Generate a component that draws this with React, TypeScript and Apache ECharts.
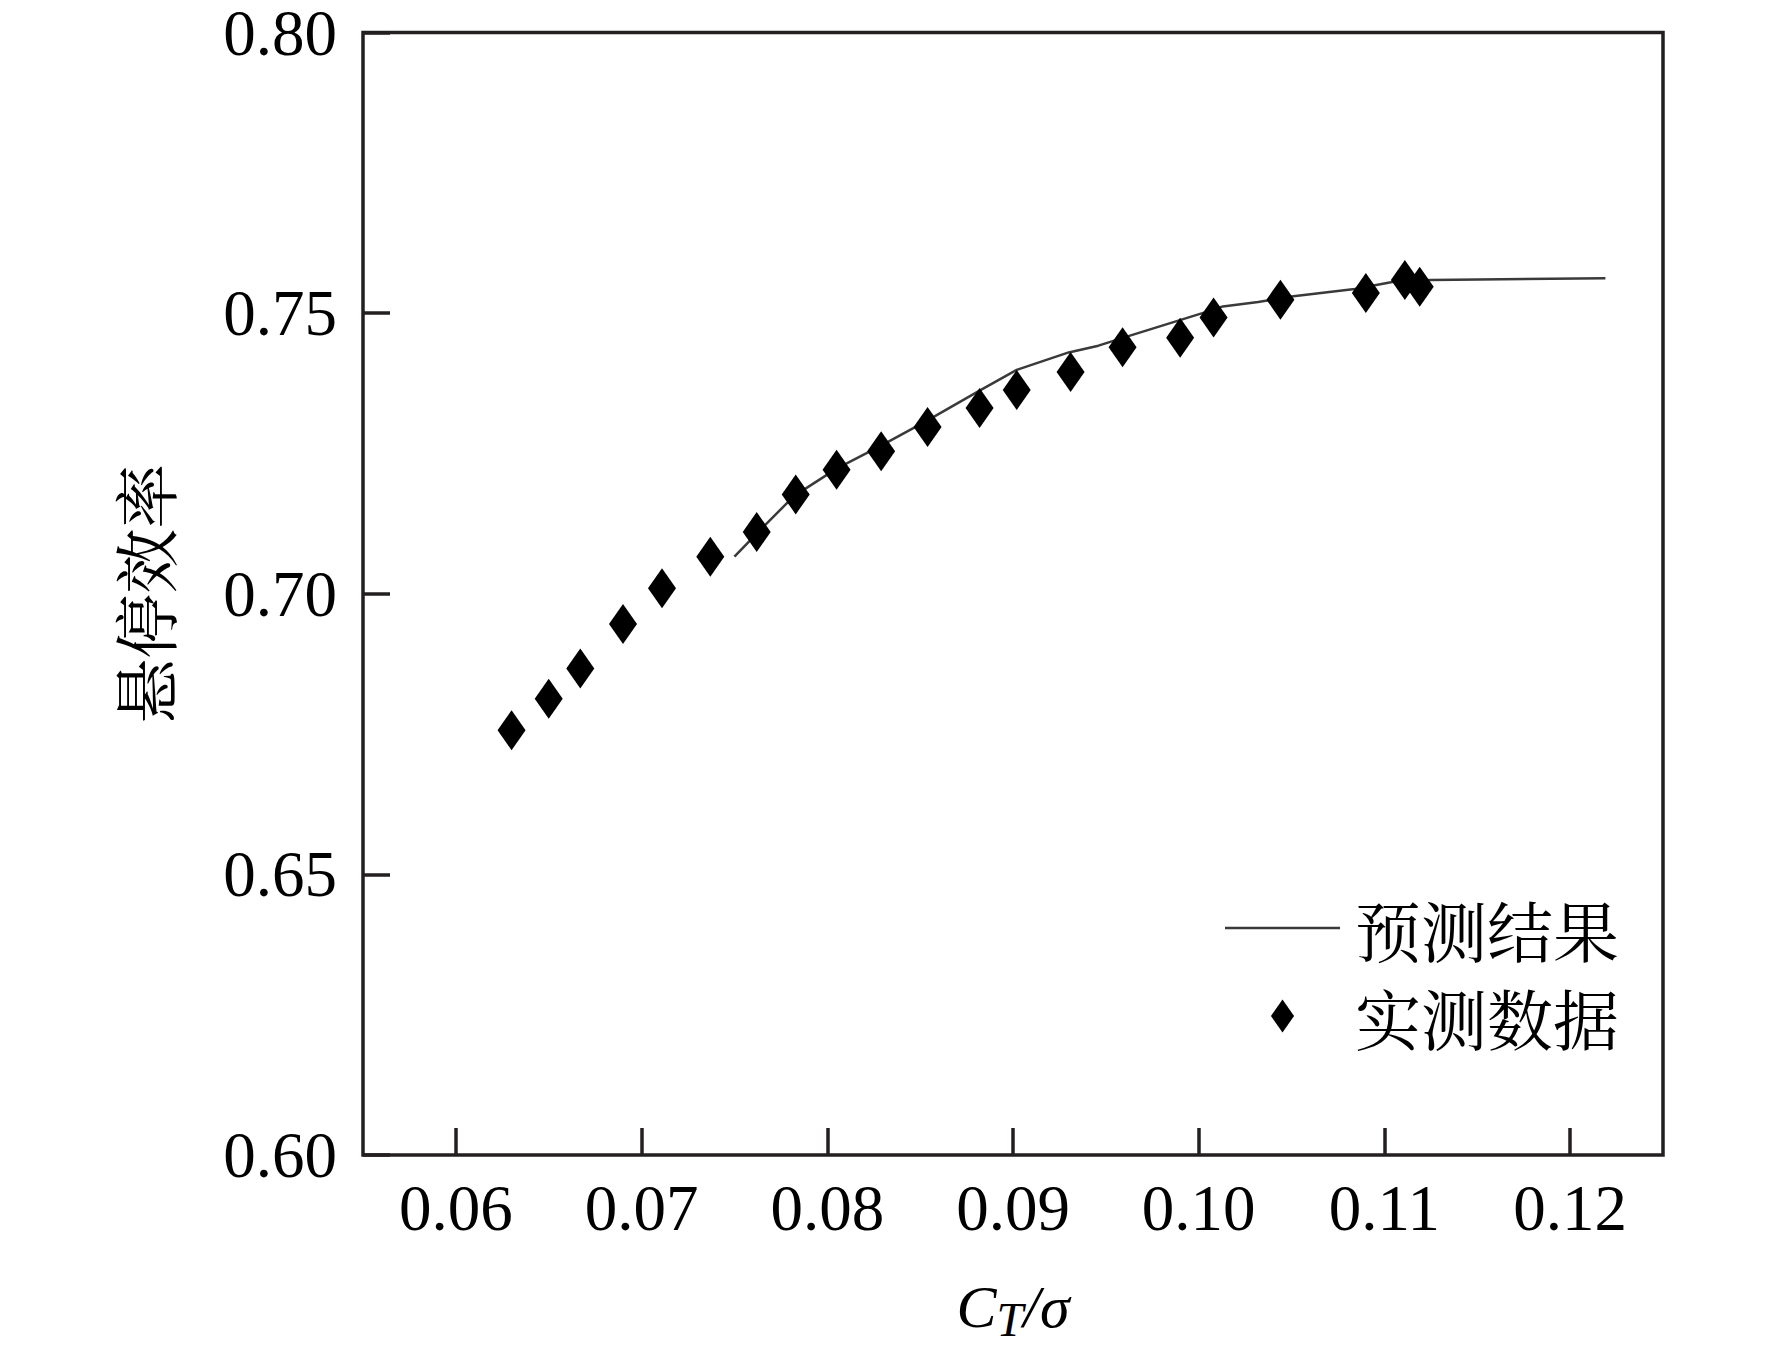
import React, { useEffect, useRef } from "react";
import * as echarts from "echarts";

// x-axis ticks (C_T/σ)
const xTickValues = [0.06, 0.07, 0.08, 0.09, 0.1, 0.11, 0.12];

// Measured data (实测数据)
const measX = [0.063, 0.065, 0.0667, 0.069, 0.0711, 0.0737, 0.0762, 0.0783, 0.0805, 0.0829, 0.0854, 0.0882, 0.0902, 0.0931, 0.0959, 0.099, 0.1008, 0.1044, 0.109, 0.1111, 0.1119];
const measY = [0.6757, 0.6813, 0.6867, 0.6946, 0.701, 0.7066, 0.711, 0.7177, 0.7221, 0.7254, 0.7297, 0.7331, 0.7363, 0.7395, 0.7439, 0.7456, 0.7492, 0.7524, 0.7536, 0.7559, 0.7547];

// Predicted result (预测结果)
const predX = [0.075, 0.0762, 0.0782, 0.0805, 0.0829, 0.0854, 0.0882, 0.0902, 0.093, 0.0946, 0.0963, 0.1002, 0.1013, 0.1032, 0.1051, 0.1084, 0.1105, 0.1125, 0.1219];
const predY = [0.7066, 0.7107, 0.7174, 0.7223, 0.7264, 0.7309, 0.7362, 0.7399, 0.743, 0.7442, 0.746, 0.75, 0.7512, 0.752, 0.753, 0.7543, 0.7556, 0.7559, 0.7562];

const NUM_FONT = "'Liberation Serif', 'Times New Roman', serif";
const CJK_FONT = "'Noto Serif CJK SC', 'Noto Sans CJK SC', sans-serif";
const FRAME = "#231f20";
const LINE_COLOR = "#3a3a3a";

export default function App() {
  const ref = useRef<HTMLDivElement>(null);

  useEffect(() => {
    if (!ref.current) return;
    const chart = echarts.init(ref.current, undefined, { renderer: "svg" });
    const option = {
      animation: false,
      backgroundColor: "#ffffff",
      grid: {
        left: 363,
        top: 32,
        width: 1300,
        height: 1123,
        show: true,
        borderColor: FRAME,
        borderWidth: 3.5,
        backgroundColor: "transparent",
      },
      legend: {
        orient: "vertical",
        left: 1220,
        top: 890,
        itemWidth: 115,
        itemHeight: 33,
        itemGap: 22,
        selectedMode: false,
        textStyle: {
          fontFamily: CJK_FONT,
          fontSize: 66,
          lineHeight: 66,
          color: "#000",
          padding: [0, 0, 0, 10],
        },
        data: [
          {
            name: "预测结果",
            icon: "path://M0,0H115V2.6H0Z",
            itemStyle: { color: LINE_COLOR, borderWidth: 0 },
          },
          { name: "实测数据", icon: "path://M0,-20L14,0L0,20L-14,0Z", itemStyle: { color: "#000", opacity: 1 } },
        ],
      },
      xAxis: {
        type: "value",
        min: 0.055,
        max: 0.125,
        name: "{c|C}{t|T}{c|/σ}",
        nameLocation: "middle",
        nameGap: 116,
        nameTextStyle: {
          rich: {
            c: { fontFamily: NUM_FONT, fontStyle: "italic", fontSize: 60, lineHeight: 72, color: "#000", verticalAlign: "middle" },
            t: { fontFamily: NUM_FONT, fontStyle: "italic", fontSize: 48, lineHeight: 48, color: "#000", verticalAlign: "bottom" },
          },
        },
        axisLine: { show: false },
        axisTick: {
          show: true,
          inside: true,
          length: 27,
          customValues: xTickValues,
          lineStyle: { color: FRAME, width: 3.5 },
        },
        axisLabel: {
          customValues: xTickValues,
          margin: 20,
          fontFamily: NUM_FONT,
          fontSize: 65,
          color: "#000",
          formatter: (v: number) => v.toFixed(2),
        },
        splitLine: { show: false },
      },
      yAxis: {
        type: "value",
        min: 0.6,
        max: 0.8,
        interval: 0.05,
        name: "悬停效率",
        nameLocation: "middle",
        nameRotate: 90,
        nameGap: 188,
        nameTextStyle: { fontFamily: CJK_FONT, fontSize: 65, color: "#000" },
        axisLine: { show: false },
        axisTick: {
          show: true,
          inside: true,
          length: 27,
          lineStyle: { color: FRAME, width: 3.5 },
        },
        axisLabel: {
          margin: 26,
          fontFamily: NUM_FONT,
          fontSize: 65,
          lineHeight: 44,
          color: "#000",
          formatter: (v: number) => v.toFixed(2),
        },
        splitLine: { show: false },
      },
      series: [
        {
          name: "预测结果",
          type: "line",
          data: predX.map((x, i) => [x, predY[i]]),
          showSymbol: false,
          symbol: "none",
          lineStyle: { color: LINE_COLOR, width: 2.5 },
          itemStyle: { color: LINE_COLOR },
          z: 2,
        },
        {
          name: "实测数据",
          type: "scatter",
          data: measX.map((x, i) => [x, measY[i]]),
          symbol: "diamond",
          symbolSize: [28, 40],
          itemStyle: { color: "#000", opacity: 1 },
          z: 3,
        },
      ],
    };
    chart.setOption(option as any);
    return () => chart.dispose();
  }, []);

  return (
    <div
      ref={ref}
      style={{ position: "fixed", left: 0, top: 0, width: 1772, height: 1353, background: "#fff" }}
    />
  );
}
